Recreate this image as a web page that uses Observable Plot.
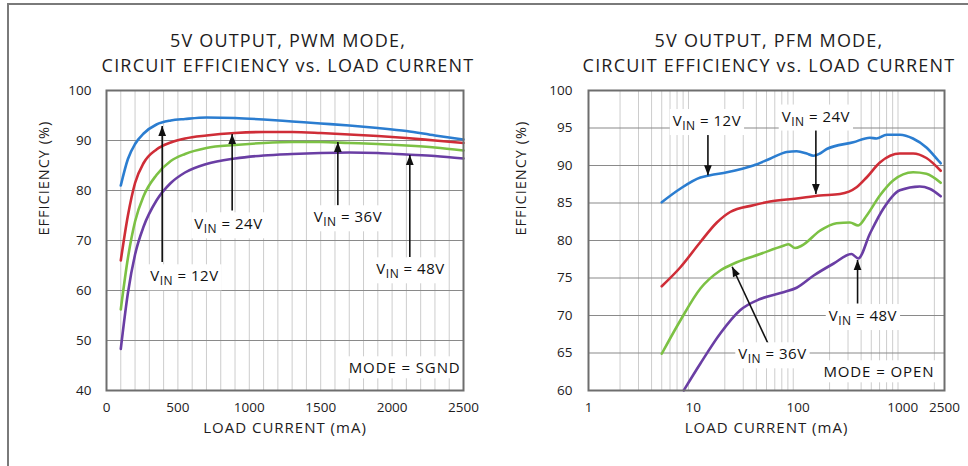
<!DOCTYPE html>
<html><head><meta charset="utf-8">
<script src="https://cdn.jsdelivr.net/npm/d3@7"></script>
<script src="https://cdn.jsdelivr.net/npm/@observablehq/plot@0.6"></script>
<style>
html,body{margin:0;padding:0;background:#fff;}
#wrap{position:relative;width:968px;height:466px;overflow:hidden;background:#fff;font-family:"Open Sans",Lato,sans-serif;color:#1e1c1d;}
#bt{position:absolute;left:7px;top:3px;width:961px;height:2px;background:#7a7a7a;}
#bl{position:absolute;left:7px;top:3px;width:2px;height:463px;background:#7a7a7a;}
.title{position:absolute;top:28px;width:484px;text-align:center;font-size:18px;line-height:25px;white-space:nowrap;letter-spacing:1.2px;}
.chart{position:absolute;top:60px;}
</style></head><body>
<div id="wrap">
  <div id="bt"></div><div id="bl"></div>
  <div class="title" id="t1" style="left:46px"></div>
  <div class="title" id="t2" style="left:527px"></div>
  <div class="chart" id="c1" style="left:0px"></div>
  <div class="chart" id="c2" style="left:484px"></div>
</div>
<script>
// ---------- titles ----------
const pwmTitle = ["5V OUTPUT, PWM MODE,", "CIRCUIT EFFICIENCY vs. LOAD CURRENT"];
const pfmTitle = ["5V OUTPUT, PFM MODE,", "CIRCUIT EFFICIENCY vs. LOAD CURRENT"];
const xTitle = "LOAD CURRENT (mA)";
const yTitle = "EFFICIENCY (%)";

// ---------- series ----------
const seriesNames = ["12V", "24V", "36V", "48V"];
const seriesColors = ["#2b7dd0", "#cf2d37", "#7cc144", "#6a3ea4"];

// PWM mode (linear load axis, mA)
const pwmLoad  = [100, 150, 200, 260, 350, 450, 550, 700, 900, 1100, 1300, 1500, 1700, 1900, 2100, 2300, 2500];
const pwmEff12 = [81.0, 86.3, 89.3, 91.4, 93.2, 94.0, 94.3, 94.6, 94.5, 94.2, 93.8, 93.4, 93.0, 92.5, 91.9, 91.0, 90.2];
const pwmEff24 = [66.0, 75.0, 81.5, 85.5, 88.2, 89.6, 90.4, 91.0, 91.5, 91.7, 91.7, 91.5, 91.2, 90.9, 90.5, 90.0, 89.5];
const pwmEff36 = [56.2, 66.5, 73.8, 78.9, 83.1, 85.9, 87.3, 88.5, 89.1, 89.5, 89.7, 89.7, 89.5, 89.3, 89.0, 88.6, 88.0];
const pwmEff48 = [48.3, 59.5, 67.2, 72.8, 78.0, 81.5, 83.6, 85.3, 86.4, 87.0, 87.3, 87.5, 87.6, 87.5, 87.2, 86.9, 86.4];

// PFM mode (log load axis, mA)
const pfmLoad12 = [5, 7.5, 11.7, 14.5, 21, 37.5, 54, 78, 97, 121, 140, 162, 188, 337, 485, 561, 700, 940, 1250, 1680, 2170, 2300];
const pfmEff12  = [85.1, 86.9, 88.4, 88.7, 89.1, 90.0, 90.9, 91.8, 91.9, 91.6, 91.3, 91.6, 92.2, 93.1, 93.7, 93.6, 94.1, 94.1, 93.6, 92.4, 90.7, 90.3];
const pfmLoad24 = [5, 7.5, 11.7, 16.8, 22.5, 37.5, 54, 97, 162, 251, 362, 451, 604, 936, 1254, 1680, 2300];
const pfmEff24  = [73.9, 76.4, 79.8, 82.4, 83.8, 84.7, 85.2, 85.6, 86.0, 86.2, 87.1, 88.4, 90.4, 91.6, 91.6, 91.0, 89.3];
const pfmLoad36 = [5, 7.5, 11.7, 18.1, 26, 43.5, 72.5, 81, 93.6, 108, 162, 233, 313, 375, 451, 604, 808, 1254, 1680, 2300];
const pfmEff36  = [64.9, 69.3, 73.6, 76.0, 77.1, 78.2, 79.3, 79.5, 79.0, 79.3, 81.3, 82.3, 82.4, 82.0, 83.3, 86.0, 88.0, 89.1, 88.9, 87.7];
const pfmLoad48 = [8.1, 11.7, 18.1, 28, 43.5, 72.5, 97, 140, 217, 325, 349, 375, 485, 649, 936, 1452, 1803, 2300];
const pfmEff48  = [60.0, 63.6, 67.6, 70.7, 72.2, 73.1, 73.7, 75.3, 76.9, 78.2, 77.9, 77.6, 80.9, 84.2, 86.7, 87.2, 86.9, 85.9];

// ---------- axes ----------
const pwmXTicks = [0, 500, 1000, 1500, 2000, 2500];
const pwmYTicks = [40, 50, 60, 70, 80, 90, 100];
const pwmGridX = [100,200,300,400,500,600,700,800,900,1000,1100,1200,1300,1400,1500,1600,1700,1800,1900,2000,2100,2200,2300,2400];
const pfmXTicks = [1, 10, 100, 1000, 2500];
const pfmYTicks = [60, 65, 70, 75, 80, 85, 90, 95, 100];
const pfmGridX = [2,3,4,5,6,7,8,9,20,30,40,50,60,70,80,90,200,300,400,500,600,700,800,900,2000];

// ---------- annotations ----------
const pwmNotes = [
  {label: "VIN = 12V", load: 546, eff: 62.8},
  {label: "VIN = 24V", load: 854, eff: 73.2},
  {label: "VIN = 36V", load: 1691, eff: 74.6},
  {label: "VIN = 48V", load: 2129, eff: 64.2}
];
const pwmMode = [{label: "MODE = SGND", load: 2480, eff: 44.4}];
const pwmArrows = [
  {load1: 390, eff1: 65.7, load2: 390, eff2: 92.9},
  {load1: 880, eff1: 76.0, load2: 880, eff2: 91.3},
  {load1: 1620, eff1: 77.0, load2: 1620, eff2: 89.7},
  {load1: 2124, eff1: 66.7, load2: 2124, eff2: 87.1}
];
const pfmNotes = [
  {label: "VIN = 12V", load: 13.5, eff: 95.9},
  {label: "VIN = 24V", load: 148, eff: 96.5},
  {label: "VIN = 36V", load: 57, eff: 64.8},
  {label: "VIN = 48V", load: 416, eff: 69.9}
];
const pfmMode = [{label: "MODE = OPEN", load: 2000, eff: 62.4}];
const pfmArrowsDown = [
  {load1: 13.8, eff1: 94.3, load2: 13.8, eff2: 88.7},
  {load1: 148, eff1: 94.9, load2: 148, eff2: 86.2}
];
const pfmArrowsUp = [
  {load1: 370, eff1: 71.6, load2: 370, eff2: 77.4}
];
const pfmArrowsDiag = [
  {load1: 52, eff1: 66.2, load2: 23.5, eff2: 76.5}
];

// ---------- build tables ----------
function rows(xs, ys, s) { return xs.map((x, i) => ({load: x, eff: ys[i], series: s})); }
const pwmRows = [
  ...rows(pwmLoad, pwmEff12, "12V"), ...rows(pwmLoad, pwmEff24, "24V"),
  ...rows(pwmLoad, pwmEff36, "36V"), ...rows(pwmLoad, pwmEff48, "48V")
];
const pfmRows = [
  ...rows(pfmLoad12, pfmEff12, "12V"), ...rows(pfmLoad24, pfmEff24, "24V"),
  ...rows(pfmLoad36, pfmEff36, "36V"), ...rows(pfmLoad48, pfmEff48, "48V")
];

const headSymbol = {
  draw(ctx, size) {
    const r = Math.sqrt(size / Math.PI);
    ctx.moveTo(0, 0);
    ctx.lineTo(r * 0.9, r * 2.3);
    ctx.lineTo(-r * 0.9, r * 2.3);
    ctx.closePath();
  }
};

const FONT = "'Open Sans', Lato, sans-serif";
const INK = "#1e1c1d";
const gridH = "#8a8a8a", gridV = "#cdcdcd";

function arrowMarks(list, rot) {
  return [
    Plot.link(list, {x1: "load1", y1: "eff1", x2: "load2", y2: "eff2", stroke: "#111", strokeWidth: 1.6}),
    Plot.dot(list, {x: "load2", y: "eff2", symbol: headSymbol, r: 4.3, fill: "#111", stroke: "none", rotate: rot})
  ];
}

const pwmPlot = Plot.plot({
  width: 484, height: 406,
  marginTop: 30, marginBottom: 76, marginLeft: 106, marginRight: 21,
  style: {fontFamily: FONT, fontSize: "13.5px", color: INK, background: "transparent"},
  x: {domain: [0, 2500], ticks: pwmXTicks, tickSize: 0, tickPadding: 12, tickFormat: "d", label: null},
  y: {domain: [40, 100], ticks: pwmYTicks, tickSize: 0, tickPadding: 15, label: null},
  color: {domain: seriesNames, range: seriesColors},
  marks: [
    Plot.ruleX(pwmGridX, {stroke: gridV, strokeWidth: 1}),
    Plot.ruleY(pwmYTicks, {stroke: gridH, strokeWidth: 1.2}),
    Plot.line(pwmRows, {x: "load", y: "eff", z: "series", stroke: "series", strokeWidth: 2.6, curve: "monotone-x"}),
    ...arrowMarks(pwmArrows, 0),
    Plot.text(pwmNotes, {x: "load", y: "eff", text: "label", fontSize: 15, fill: "#111"}),
    Plot.text(pwmMode, {x: "load", y: "eff", text: "label", fontSize: 15, fill: "#111", textAnchor: "end"}),
    Plot.frame({stroke: "#6e6e6e", strokeWidth: 2}),
    Plot.text([xTitle], {frameAnchor: "bottom", dy: 42, fontSize: 15, fill: INK}),
    Plot.text([yTitle], {frameAnchor: "left", dx: -62, dy: -5, rotate: -90, fontSize: 14.5, fill: INK})
  ]
});

const pfmPlot = Plot.plot({
  width: 484, height: 406,
  marginTop: 30, marginBottom: 76, marginLeft: 104, marginRight: 24,
  style: {fontFamily: FONT, fontSize: "13.5px", color: INK, background: "transparent"},
  x: {type: "log", domain: [1, 2500], ticks: pfmXTicks, tickSize: 0, tickPadding: 12, tickFormat: "d", label: null},
  y: {domain: [60, 100], ticks: pfmYTicks, tickSize: 0, tickPadding: 16, label: null},
  color: {domain: seriesNames, range: seriesColors},
  marks: [
    Plot.ruleX(pfmGridX, {stroke: gridV, strokeWidth: 1}),
    Plot.ruleY(pfmYTicks, {stroke: gridH, strokeWidth: 1.2}),
    Plot.line(pfmRows, {x: "load", y: "eff", z: "series", stroke: "series", strokeWidth: 2.6, curve: "monotone-x"}),
    ...arrowMarks(pfmArrowsDown, 180),
    ...arrowMarks(pfmArrowsUp, 0),
    ...arrowMarks(pfmArrowsDiag, -26),
    Plot.text(pfmNotes, {x: "load", y: "eff", text: "label", fontSize: 15, fill: "#111"}),
    Plot.text(pfmMode, {x: "load", y: "eff", text: "label", fontSize: 15, fill: "#111", textAnchor: "end"}),
    Plot.frame({stroke: "#6e6e6e", strokeWidth: 2}),
    Plot.text([xTitle], {frameAnchor: "bottom", dy: 42, fontSize: 15, fill: INK}),
    Plot.text([yTitle], {frameAnchor: "left", dx: -67, dy: -5, rotate: -90, fontSize: 14.5, fill: INK})
  ]
});

document.getElementById("t1").innerHTML = pwmTitle.join("<br>");
document.getElementById("t2").innerHTML = pfmTitle.join("<br>");
document.getElementById("c1").appendChild(pwmPlot);
document.getElementById("c2").appendChild(pfmPlot);

// letter spacing, subscript "IN" and white boxes behind annotation labels
function decorate(svg) {
  d3.select(svg).selectAll("text").each(function() {
    const t = this.textContent;
    if (t === xTitle || t === yTitle) { this.setAttribute("letter-spacing", "1"); return; }
    const isVin = /^VIN/.test(t);
    const isMode = /^MODE/.test(t);
    if (!isVin && !isMode) return;
    const sel = d3.select(this);
    sel.attr("letter-spacing", isMode ? "0.9" : "0.5");
    if (isVin) {
      const rest = t.slice(3);
      sel.text(null);
      sel.append("tspan").text("V");
      sel.append("tspan").attr("font-size", "12px").attr("dy", "4").text("IN");
      sel.append("tspan").attr("dy", "-4").text(rest);
    }
    const b = this.getBBox();
    const parent = this.parentNode;
    const rect = document.createElementNS("http://www.w3.org/2000/svg", "rect");
    rect.setAttribute("x", b.x - 3);
    rect.setAttribute("y", b.y - 1);
    rect.setAttribute("width", b.width + 6);
    rect.setAttribute("height", b.height + 2);
    rect.setAttribute("fill", "white");
    const tr = this.getAttribute("transform");
    if (tr) rect.setAttribute("transform", tr);
    parent.insertBefore(rect, this);
  });
}
decorate(pwmPlot);
decorate(pfmPlot);
</script>
</body></html>
